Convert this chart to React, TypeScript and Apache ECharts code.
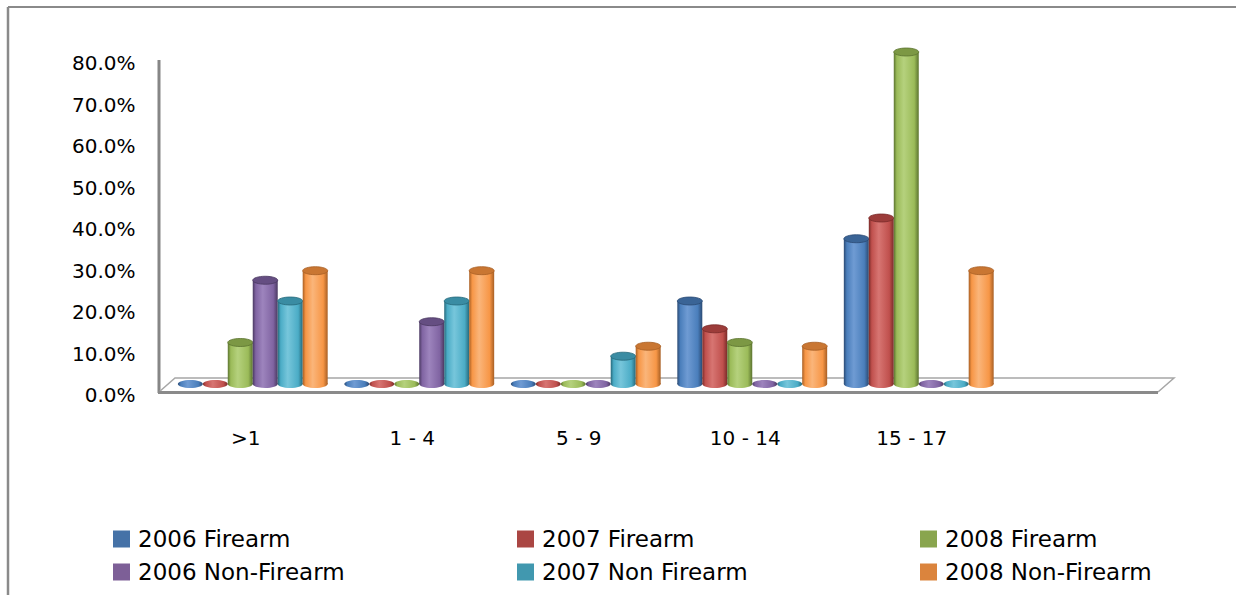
import React, { useEffect, useRef } from "react";
import * as echarts from "echarts";

const categories = [">1", "1 - 4", "5 - 9", "10 - 14", "15 - 17", ""];
const firearm2006 = [0, 0, 0, 20, 35];
const firearm2007 = [0, 0, 0, 13.3, 40];
const firearm2008 = [10, 0, 0, 10, 80];
const nonFirearm2006 = [25, 15, 0, 0, 0];
const nonFirearm2007 = [20, 20, 6.7, 0, 0];
const nonFirearm2008 = [27.3, 27.3, 9.1, 9.1, 27.3];
const yTicks = [0, 10, 20, 30, 40, 50, 60, 70, 80];

const seriesNames = [
  "2006 Firearm",
  "2007 Firearm",
  "2008 Firearm",
  "2006 Non-Firearm",
  "2007 Non Firearm",
  "2008 Non-Firearm",
];
const seriesValues = [firearm2006, firearm2007, firearm2008, nonFirearm2006, nonFirearm2007, nonFirearm2008];

const legendColors = ["#4572A7", "#AA4643", "#89A54E", "#7D5F97", "#4198AF", "#DB843D"];
const shades = [
  { dark: "#2b4a73", base: "#4a7ebb", light: "#6f9bd3", top: "#3a6496" },
  { dark: "#7a2b29", base: "#c0504d", light: "#d77572", top: "#9c3c3a" },
  { dark: "#5c7430", base: "#9bbb59", light: "#b5d17d", top: "#7c9844" },
  { dark: "#4a3961", base: "#8064a2", light: "#9d84bd", top: "#654e82" },
  { dark: "#27697b", base: "#4bacc6", light: "#77c6db", top: "#3a8ca3" },
  { dark: "#a85f24", base: "#f79646", light: "#fab57a", top: "#c97632" },
];

const FONT = "DejaVu Sans";

export default function App() {
  const ref = useRef<HTMLDivElement>(null);

  useEffect(() => {
    if (!ref.current) return;
    const chart = echarts.init(ref.current, null, { renderer: "svg" });

    const makeRender = (si: number) => (params: any, api: any) => {
      const cat = api.value(0);
      const v = api.value(1);
      const base = api.coord([cat, 0]);
      const topPt = api.coord([cat, v]);
      const bw = api.size([1, 0])[0] * 0.15;
      const cx = base[0] + (si - 2.5) * bw;
      const y0 = base[1];
      const y1 = topPt[1];
      const rx = bw / 2;
      const ry = bw * 0.16;
      const s = shades[si];
      const grad = new echarts.graphic.LinearGradient(0, 0, 1, 0, [
        { offset: 0, color: s.dark },
        { offset: 0.12, color: s.base },
        { offset: 0.4, color: s.light },
        { offset: 0.82, color: s.base },
        { offset: 1, color: s.dark },
      ]);
      if (v <= 0) {
        return {
          type: "ellipse",
          shape: { cx, cy: y0, rx, ry },
          style: { fill: grad },
        };
      }
      return {
        type: "group",
        children: [
          { type: "ellipse", shape: { cx, cy: y0, rx, ry }, style: { fill: grad } },
          { type: "rect", shape: { x: cx - rx, y: y1, width: bw, height: y0 - y1 }, style: { fill: grad } },
          {
            type: "ellipse",
            shape: { cx, cy: y1, rx, ry },
            style: { fill: s.top, stroke: s.dark, lineWidth: 0.8 },
          },
        ],
      };
    };

    const series = seriesNames.map((name, si) => ({
      name,
      type: "custom",
      renderItem: makeRender(si),
      itemStyle: { color: legendColors[si] },
      encode: { x: 0, y: 1 },
      data: seriesValues[si].map((v, i) => [i, v]),
      z: 2,
    }));

    const legendCol = (names: string[], left: number) => ({
      orient: "vertical",
      left,
      top: 522,
      data: names,
      icon: "rect",
      itemWidth: 17,
      itemHeight: 17,
      itemGap: 9,
      selectedMode: false,
      textStyle: {
        color: "#000",
        fontFamily: FONT,
        fontSize: 23,
        lineHeight: 24,
        padding: [0, 0, 0, 3],
      },
    });

    const option: any = {
      animation: false,
      color: legendColors,
      grid: { left: 169.5, right: 67.5, top: 52, bottom: 211, containLabel: false },
      xAxis: {
        type: "category",
        data: categories,
        axisLine: { show: false },
        axisTick: { show: false },
        splitLine: { show: false },
        axisLabel: {
          color: "#000",
          fontFamily: FONT,
          fontSize: 20,
          margin: 44,
          padding: [0, 14, 0, 0],
          interval: 0,
        },
      },
      yAxis: {
        type: "value",
        min: yTicks[0],
        max: yTicks[yTicks.length - 1],
        interval: 10,
        axisLine: { show: false },
        axisTick: { show: false },
        splitLine: { show: false },
        axisLabel: {
          color: "#000",
          fontFamily: FONT,
          fontSize: 20,
          lineHeight: 22,
          margin: 34,
          verticalAlign: "top",
          formatter: (v: number) => v.toFixed(1) + "%",
        },
      },
      legend: [
        legendCol([seriesNames[0], seriesNames[3]], 108),
        legendCol([seriesNames[1], seriesNames[4]], 512),
        legendCol([seriesNames[2], seriesNames[5]], 915),
      ],
      graphic: [
        { type: "line", shape: { x1: 8, y1: 7, x2: 1236, y2: 7 }, style: { stroke: "#8a8a8a", lineWidth: 2 }, z: 1 },
        { type: "line", shape: { x1: 8, y1: 7, x2: 8, y2: 595 }, style: { stroke: "#8a8a8a", lineWidth: 2.5 }, z: 1 },
        { type: "line", shape: { x1: 159, y1: 60, x2: 159, y2: 393 }, style: { stroke: "#868686", lineWidth: 3 }, z: 1 },
        {
          type: "polyline",
          shape: { points: [[159, 392], [175, 378], [1174, 378], [1158, 392]] },
          style: { stroke: "#a6a6a6", lineWidth: 1.5, fill: "none" },
          z: 1,
        },
        { type: "line", shape: { x1: 158, y1: 392.5, x2: 1158, y2: 392.5 }, style: { stroke: "#8a8a8a", lineWidth: 3 }, z: 1 },
      ],
      series,
    };

    chart.setOption(option);
    return () => chart.dispose();
  }, []);

  return (
    <div
      ref={ref}
      style={{ position: "fixed", left: 0, top: 0, width: 1236, height: 595, background: "#fff" }}
    />
  );
}
